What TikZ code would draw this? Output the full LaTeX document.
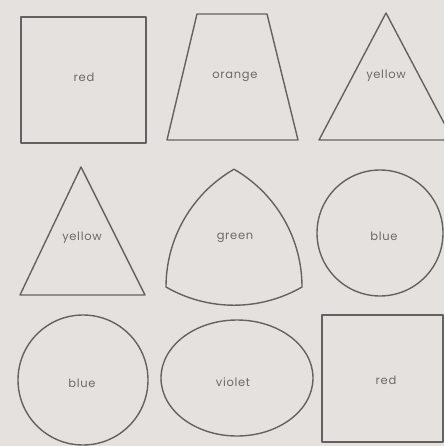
\documentclass[tikz,border=0pt]{standalone}
\usepackage{fontspec}
\setmainfont{Poppins}[LetterSpace=6]
\definecolor{paperGray}{RGB}{229,225,222}
\definecolor{inkGray}{RGB}{100,98,96}
\definecolor{labelGray}{RGB}{108,106,104}
\tikzset{
  shapeline/.style={draw=inkGray,line width=1.4pt,line join=round},
  colorlabel/.style={font=\fontsize{11.5}{13}\selectfont,text=labelGray,inner sep=1pt}
}

\begin{document}
\begin{tikzpicture}[x=1pt,y=-1pt]
\fill[paperGray] (0,0) rectangle (444,446);
\useasboundingbox (0,0) rectangle (444,446);
\clip (0,0) rectangle (444,446);
% first row
\draw[shapeline] (21,17) rectangle (146,143);
\node[colorlabel] (red1) at (84,77) {red};
\draw[shapeline] (197,14) -- (267,14) -- (298,140) -- (167,140) -- cycle;
\node[colorlabel] (orange) at (235,77) {orange};
\draw[shapeline] (386,13) -- (453,140) -- (319,140) -- cycle;
\node[colorlabel] (yellow1) at (386,76) {yellow};
% second row
\draw[shapeline] (81,167) -- (145,295) -- (20,295) -- cycle;
\node[colorlabel] (yellow2) at (82,238) {yellow};
\draw[shapeline] (166,287) arc[start angle=180,end angle=240,radius=136]
  arc[start angle=-60,end angle=0,radius=136]
  arc[start angle=60,end angle=120,radius=136] -- cycle;
\node[colorlabel] (green) at (235,238) {green};
\draw[shapeline] (380,233) circle[radius=63];
\node[colorlabel] (blue1) at (384,236) {blue};
% third row
\draw[shapeline] (83,380) circle[radius=65];
\node[colorlabel] (blue2) at (82,383) {blue};
\draw[shapeline] (237,378) ellipse[x radius=76,y radius=58];
\node[colorlabel] (violet) at (233,382) {violet};
\draw[shapeline] (322,315) rectangle (443,442);
\node[colorlabel] (red2) at (386,380) {red};
\end{tikzpicture}
\end{document}
